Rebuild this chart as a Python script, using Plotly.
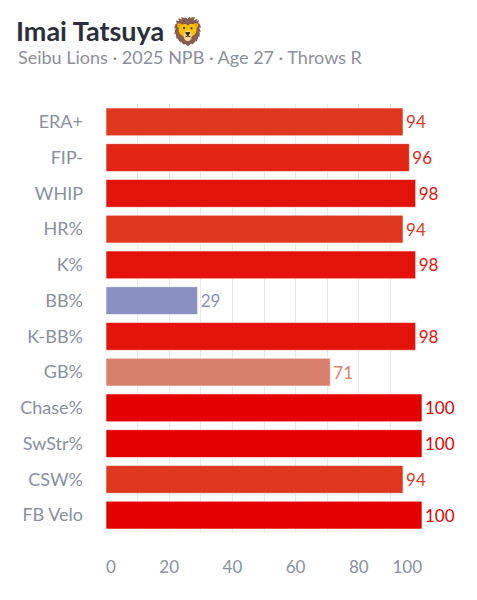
import plotly.graph_objects as go
from plotly.colors import sample_colorscale

# Data
metrics = ['ERA+', 'FIP-', 'WHIP', 'HR%', 'K%', 'BB%', 'K-BB%', 'GB%',
           'Chase%', 'SwStr%', 'CSW%', 'FB Velo']
percentiles = [94, 96, 98, 94, 98, 29, 98, 71, 100, 100, 94, 100]
x_ticks = [0, 20, 40, 60, 80, 100]

title_text = 'Imai Tatsuya 🦁'
subtitle_text = 'Seibu Lions · 2025 NPB · Age 27 · Throws R'

# percentile colour scale (blue -> red)
scale = [[0.0, '#3d4fc0'], [0.29, '#8a91c2'], [0.5, '#c9c4c2'],
         [0.71, '#d8806b'], [0.94, '#e0381f'], [1.0, '#e50000']]
colors = sample_colorscale(scale, [p / 100 for p in percentiles])

# flush first/last tick labels inside the axis ends
FS = '\u2007'
tick_text = [str(t) for t in x_ticks]
tick_text[0] = FS + tick_text[0]
tick_text[-1] = tick_text[-1] + FS * 3

# page body has an 8px margin, so the figure is drawn 8px smaller
W, H = 461, 584

fig = go.Figure(go.Bar(
    x=percentiles,
    y=metrics,
    orientation='h',
    marker=dict(color=colors, line=dict(color='rgba(255,255,255,0.6)', width=1)),
    text=[str(p) for p in percentiles],
    textposition='outside',
    textfont=dict(color=colors, size=17, family='Lato'),
    cliponaxis=False,
    width=0.78,
))

fig.update_layout(
    width=W, height=H,
    margin=dict(l=98, r=47, t=96, b=59),
    paper_bgcolor='white', plot_bgcolor='white',
    font=dict(family='Lato', color='#8a909e'),
    showlegend=False,
    title=dict(text=title_text, xref='container', yref='container',
               x=8 / W, y=1 - 24 / H, xanchor='left', yanchor='middle',
               font=dict(size=27, color='#2b2f3a', family='Lato', weight='bold')),
    annotations=[dict(text=subtitle_text, xref='paper', yref='paper',
                      x=(8 - 98) / 316, y=1 + (96 - 49) / 429,
                      xanchor='left', yanchor='middle', showarrow=False,
                      font=dict(size=18, color='#8a8f99', family='Lato'))],
)

fig.update_xaxes(
    range=[0, 100], tickvals=x_ticks, ticktext=tick_text,
    showgrid=True, gridcolor='#e6e8ee', gridwidth=1,
    minor=dict(dtick=10, showgrid=True, gridcolor='#e6e8ee'),
    zeroline=False, showline=False, ticklabelstandoff=22,
    tickfont=dict(size=17, color='#8a909e'),
)
fig.update_yaxes(
    autorange='reversed', showgrid=False, showline=False, ticks='',
    ticklabelstandoff=22, tickfont=dict(size=18, color='#8a909e'),
)

fig.write_html("out.html")
